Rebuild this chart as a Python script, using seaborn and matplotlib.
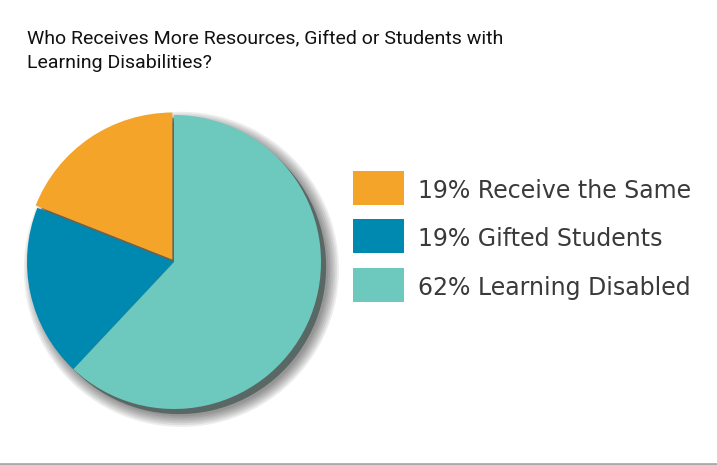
"""
Pie chart: who receives more resources
"""

import matplotlib.pyplot as plt
import seaborn as sns
from matplotlib.lines import Line2D
from matplotlib.patches import Rectangle

sns.set_theme(style='white')
plt.rcParams['font.family'] = ['Roboto', 'DejaVu Sans']

# ── Data ─────────────────────────────────────────────────────────────────────
categories = ['Receive the Same', 'Gifted Students', 'Learning Disabled']
shares = [19, 19, 62]
colors = ['#F5A42A', '#0089B0', '#6DC8BD']
title = 'Who Receives More Resources, Gifted or Students with\nLearning Disabilities?'

# ── Figure ───────────────────────────────────────────────────────────────────
W, H = 717, 465
fig = plt.figure(figsize=(W / 100, H / 100), dpi=100)
fig.patch.set_facecolor('white')

ax = fig.add_axes([27 / W, (H - 262 - 147) / H, 294 / W, 294 / H])

# soft blurred drop shadow, built up from a few faint grey pies
for i in range(7):
    ax.pie(shares, colors=['#000000'] * 3, startangle=90, radius=1.0 + 0.012 * i,
           center=(0.05, -0.05), wedgeprops={'linewidth': 0, 'alpha': 0.07})

wedges, _ = ax.pie(shares, colors=colors, startangle=90, counterclock=True,
                   explode=[0.02, 0, 0],
                   shadow={'ox': 0.025, 'oy': -0.025, 'shade': 0.5},
                   wedgeprops={'linewidth': 0})
ax.set_xlim(-1, 1)
ax.set_ylim(-1, 1)
ax.set_aspect('equal')
ax.axis('off')

fig.text(27 / W, 1 - 29 / H, title, ha='left', va='top',
         fontsize=14, color='#111111', linespacing=1.5)

# ── Legend, drawn by hand so the swatches match ──────────────────────────────
labels = [f'{s}% {c}' for s, c in zip(shares, categories)]
for i, (lab, col) in enumerate(zip(labels, colors)):
    yc = 188 + 48.5 * i
    fig.add_artist(Rectangle((353 / W, 1 - (yc + 17) / H), 51 / W, 34 / H,
                             facecolor=col, edgecolor='none',
                             transform=fig.transFigure))
    fig.text(418 / W, 1 - yc / H, lab, ha='left', va='center_baseline',
             fontsize=17, color='#3a3a3a', family=['DejaVu Sans'])

fig.add_artist(Line2D([0, 1], [1.5 / H, 1.5 / H], color='#aaaaaa',
                      linewidth=2, transform=fig.transFigure))

plt.savefig('out.png', dpi=100)
plt.close()
